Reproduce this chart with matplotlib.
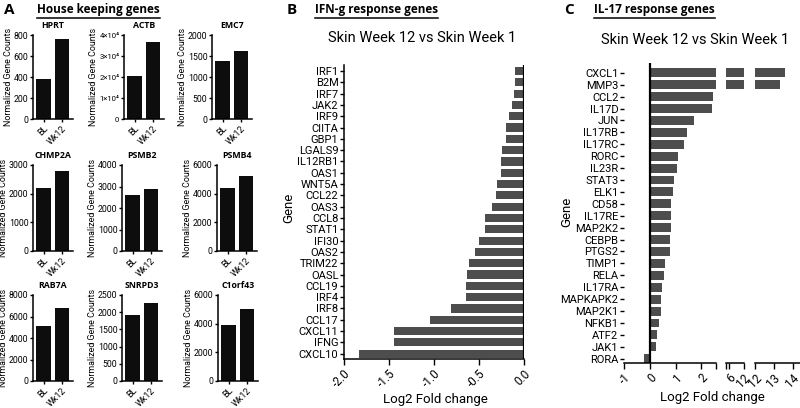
import matplotlib
matplotlib.use('Agg')
import matplotlib.pyplot as plt
from matplotlib.lines import Line2D
from matplotlib.ticker import FuncFormatter
import numpy as np

# ---------------- data ----------------
hk_genes = ['HPRT', 'ACTB', 'EMC7', 'CHMP2A', 'PSMB2', 'PSMB4', 'RAB7A', 'SNRPD3', 'C1orf43']
hk_groups = ['BL', 'Wk12']
hk_bl = [385, 20500, 1370, 2200, 2620, 4380, 5150, 1920, 3930]
hk_wk12 = [760, 36500, 1620, 2800, 2880, 5250, 6750, 2270, 5000]
hk_ymax = [800, 40000, 2000, 3000, 4000, 6000, 8000, 2500, 6000]
hk_ystep = [200, 10000, 500, 1000, 1000, 2000, 2000, 500, 2000]

ifng_genes = ['IRF1', 'B2M', 'IRF7', 'JAK2', 'IRF9', 'CIITA', 'GBP1', 'LGALS9', 'IL12RB1',
              'OAS1', 'WNT5A', 'CCL22', 'OAS3', 'CCL8', 'STAT1', 'IFI30', 'OAS2', 'TRIM22',
              'OASL', 'CCL19', 'IRF4', 'IRF8', 'CCL17', 'CXCL11', 'IFNG', 'CXCL10']
ifng_fc = [-0.10, -0.10, -0.11, -0.13, -0.17, -0.20, -0.20, -0.24, -0.26,
           -0.26, -0.30, -0.31, -0.36, -0.43, -0.43, -0.50, -0.54, -0.61,
           -0.63, -0.64, -0.64, -0.81, -1.05, -1.45, -1.45, -1.83]

il17_genes = ['CXCL1', 'MMP3', 'CCL2', 'IL17D', 'JUN', 'IL17RB', 'IL17RC', 'RORC', 'IL23R',
              'STAT3', 'ELK1', 'CD58', 'IL17RE', 'MAP2K2', 'CEBPB', 'PTGS2', 'TIMP1', 'RELA',
              'IL17RA', 'MAPKAPK2', 'MAP2K1', 'NFKB1', 'ATF2', 'JAK1', 'RORA']
il17_fc = [13.6, 13.33, 2.44, 2.42, 1.73, 1.45, 1.31, 1.08, 1.04,
           0.95, 0.92, 0.82, 0.82, 0.82, 0.79, 0.77, 0.61, 0.57,
           0.48, 0.42, 0.42, 0.36, 0.29, 0.26, -0.21]

comparison_title = 'Skin Week 12 vs Skin Week 1'

# ---------------- figure ----------------
BASE = ['Roboto', 'DejaVu Sans']
plt.rcParams['font.family'] = BASE
plt.rcParams['axes.linewidth'] = 1.1
W, H = 800, 408
fig = plt.figure(figsize=(8, 4.08), dpi=100)


def ax_px(l, t, r, b):
    return fig.add_axes([l / W, 1 - b / H, (r - l) / W, (b - t) / H])


# ---------------- panel A ----------------
col_x = [[33, 124, 212], [33, 122, 217], [33, 122, 218]]
row_tb = [(35, 119), (165, 251), (295, 381)]
for i, g in enumerate(hk_genes):
    r, c = divmod(i, 3)
    l = col_x[r][c]
    t, b = row_tb[r]
    ax = ax_px(l, t, l + 40, b)
    ax.bar([0, 1], [hk_bl[i], hk_wk12[i]], width=0.78, color='#0d0d0d')
    ax.set_xlim(-0.58, 1.62)
    ax.set_ylim(0, hk_ymax[i])
    ax.set_yticks(np.arange(0, hk_ymax[i] + 1, hk_ystep[i]))
    ax.set_xticks([0, 1])
    ax.set_xticklabels(hk_groups, rotation=45, ha='right', rotation_mode='anchor')
    ax.tick_params(axis='x', labelsize=6.4, length=2.5, width=1, pad=1)
    ax.tick_params(axis='y', labelsize=6.3, length=2.5, width=1, pad=0.8)
    if g == 'ACTB':
        ax.yaxis.set_major_formatter(FuncFormatter(
            lambda v, p: '0' if v == 0 else f'{int(round(v / 1e4))}×10⁴'))
        ax.tick_params(axis='y', labelsize=5.6)
    for s in ['top', 'right']:
        ax.spines[s].set_visible(False)
    ax.set_ylabel('Normalized Gene Counts', fontsize=6.4, labelpad=0.8)
    ax.set_title(g, fontsize=6.3, fontweight='bold', pad=5, family=['Open Sans', 'DejaVu Sans'])

# ---------------- panel B ----------------
axB = ax_px(344, 65, 524, 359)
yB = np.arange(len(ifng_genes))
axB.barh(yB, ifng_fc, height=0.72, color='#4d4d4d')
axB.set_ylim(len(ifng_genes) - 0.53, -0.53)
axB.set_xlim(-2, 0)
axB.set_yticks(yB)
axB.set_yticklabels(ifng_genes)
xt = [-2.0, -1.5, -1.0, -0.5, 0.0]
axB.set_xticks(xt)
axB.set_xticklabels([f'{v:.1f}' for v in xt], rotation=45, ha='right', rotation_mode='anchor')
axB.axvline(0, color='black', lw=1.6)
axB.tick_params(axis='y', labelsize=8, length=3, width=1, pad=1)
axB.tick_params(axis='x', labelsize=8.5, length=4, width=1, pad=2)
for s in ['top', 'right']:
    axB.spines[s].set_visible(False)

# ---------------- panel C (broken axis) ----------------
segs = [((624, 716), (-1, 2.57), [-1, 0, 1, 2], [2.57]),
        ((726, 744), (4.7, 12.1), [6, 12], [4.7]),
        ((755, 800), (12, 14.4), [12, 13, 14], [])]
yC = np.arange(len(il17_genes))
for k, ((l, r), xl, ticks, caps) in enumerate(segs):
    ax = ax_px(l, 63, r, 363)
    ax.barh(yC, il17_fc, height=0.75, color='#4d4d4d')
    ax.set_xlim(*xl)
    ax.set_ylim(len(il17_genes) - 0.64, -0.82)
    ax.set_xticks(ticks)
    ax.set_xticks(caps, minor=True)
    ax.set_xticklabels([str(v) for v in ticks], rotation=45, ha='right', rotation_mode='anchor')
    ax.tick_params(axis='x', which='both', labelsize=8.5, length=4, width=1, pad=2)
    for s in ['top', 'right', 'left']:
        ax.spines[s].set_visible(False)
    if k == 0:
        ax.set_yticks(yC)
        ax.set_yticklabels(il17_genes)
        ax.tick_params(axis='y', labelsize=8, length=3, width=1, pad=1)
        ax.axvline(0, color='black', lw=1.6)
    else:
        ax.set_yticks([])

# ---------------- texts ----------------
HDR = ['Open Sans', 'DejaVu Sans']
fig.text(422 / W, 1 - 38 / H, comparison_title, ha='center', va='center', fontsize=10.5)
fig.text(695 / W, 1 - 40 / H, comparison_title, ha='center', va='center', fontsize=10.5)
fig.text(289 / W, 1 - 208 / H, 'Gene', rotation=90, ha='center', va='center', fontsize=9.5)
fig.text(567 / W, 1 - 212 / H, 'Gene', rotation=90, ha='center', va='center', fontsize=9.5)
fig.text(435 / W, 1 - 399 / H, 'Log2 Fold change', ha='center', va='center', fontsize=9.5)
fig.text(712 / W, 1 - 398 / H, 'Log2 Fold change', ha='center', va='center', fontsize=9.5)

for letter, lx, title, tx in [('A', 4, 'House keeping genes', 37),
                               ('B', 287, 'IFN-g response genes', 315),
                               ('C', 564, 'IL-17 response genes', 594)]:
    fig.text(lx / W, 1 - 10 / H, letter, ha='left', va='center', fontsize=11,
             fontweight='bold', family=HDR)
    fig.text(tx / W, 1 - 10 / H, title, ha='left', va='center', fontsize=8.5,
             fontweight='bold', family=HDR)

fig.canvas.draw()
rend = fig.canvas.get_renderer()
for t in fig.texts:
    if t.get_text() in ('House keeping genes', 'IFN-g response genes', 'IL-17 response genes'):
        bb = t.get_window_extent(rend)
        yline = bb.y0 - 1
        fig.add_artist(Line2D([bb.x0 / W, bb.x1 / W], [yline / H, yline / H],
                              color='black', lw=1.1, transform=fig.transFigure))

fig.savefig('out.png', dpi=100)
